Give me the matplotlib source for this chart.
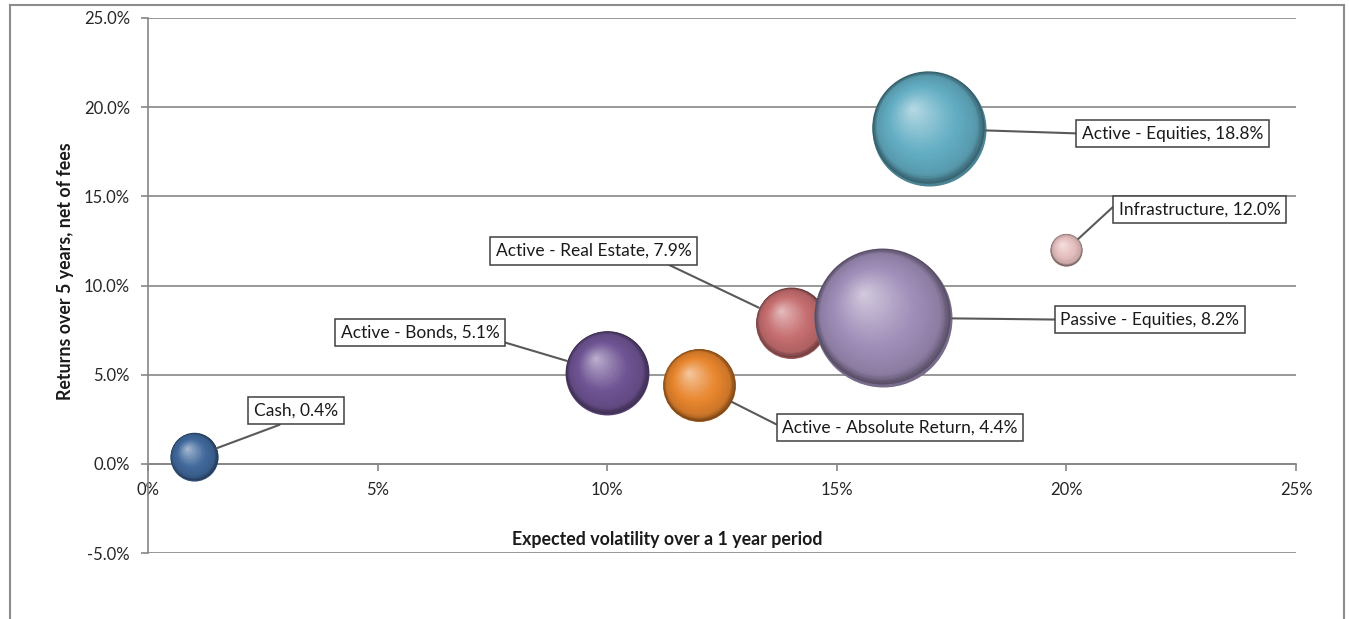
import numpy as np
import matplotlib
matplotlib.use("Agg")
import matplotlib.pyplot as plt
from matplotlib.colors import to_rgb
from matplotlib.transforms import offset_copy
from matplotlib.lines import Line2D
from matplotlib.ticker import FuncFormatter

plt.rcParams['font.family'] = ['Lato', 'DejaVu Sans']

# data (percent)
names = ["Cash", "Active - Bonds", "Active - Absolute Return", "Active - Real Estate",
         "Passive - Equities", "Active - Equities", "Infrastructure"]
volatility = [1, 10, 12, 14, 16, 17, 20]
returns = [0.4, 5.1, 4.4, 7.9, 8.2, 18.8, 12.0]
bubble_size = [5.8, 17.6, 13.3, 12.6, 47.6, 32.5, 2.6]
colors = ["#41699c", "#6f5494", "#e8862e", "#c66e70", "#9f8db8", "#63aec4", "#e6bfbf"]

# label box offsets from bubble centre, pixels (x right, y up), and where the leader joins the box
label_offsets = [(102, 46), (-187, 40), (201, -42), (-197, 72), (267, -2), (244, -5), (133, 40)]
label_joins = [(0.5, 0), (1, 0), (0, 0.5), (0.82, 0), (0, 0.5), (0, 0.5), (0, 1)]

DPI = 100
fig = plt.figure(figsize=(13.49, 6.19), dpi=DPI)
ax = fig.add_axes([148/1349, 1-553/619, (1296-148)/1349, (553-18)/619])

grey = "#868686"
ax.set_xlim(0, 25)
ax.set_ylim(-5, 25)
ax.set_xticks(np.arange(0, 26, 5))
ax.set_yticks(np.arange(-5, 26, 5))
ax.xaxis.set_major_formatter(FuncFormatter(lambda v, p: f"{v:.0f}%"))
ax.yaxis.set_major_formatter(FuncFormatter(lambda v, p: f"{v:.1f}%"))
ax.yaxis.grid(True, color=grey, lw=1.2, zorder=0)
ax.set_axisbelow(True)
for s in ["top", "right"]:
    ax.spines[s].set_visible(False)
ax.spines["bottom"].set_position(("data", 0))
ax.spines["bottom"].set_color(grey)
ax.spines["left"].set_color(grey)
ax.spines["bottom"].set_linewidth(1.2)
ax.spines["left"].set_linewidth(1.2)
ax.tick_params(axis="x", direction="out", length=5, width=1.2, color=grey,
               pad=8, labelsize=12, labelcolor="#262626")
ax.tick_params(axis="y", direction="out", length=5, width=1.2, color=grey,
               pad=8, labelsize=12, labelcolor="#262626")

PT = 72 / DPI


def sphere(x, y, r_px, color, n=60):
    base = np.array(to_rgb(color))
    dark = base * 0.5
    mid = base * 0.88
    light = base + (1 - base) * 0.55
    # faint lighter rim at the bottom (reflection)
    ax.scatter([x], [y], s=(2 * r_px * PT) ** 2, color=base * 0.75,
               linewidths=0, zorder=3)
    ux, uy = -0.65, 0.76
    for i in range(n):
        f = 0.985 - 0.985 * i / n
        t = 1 - f
        if t < 0.12:
            c = dark + (mid - dark) * (t / 0.12)
        elif t < 0.4:
            c = mid + (base - mid) * ((t - 0.12) / 0.28)
        else:
            c = base + (light - base) * ((t - 0.4) / 0.6) ** 1.1
        d = 0.45 * r_px * t
        tr = offset_copy(ax.transData, fig=fig, x=ux * d * PT,
                         y=(uy * d + 0.015 * r_px) * PT, units="points")
        ax.scatter([x], [y], s=(2 * r_px * f * PT) ** 2, color=np.clip(c, 0, 1),
                   linewidths=0, transform=tr, zorder=3)


radii = [10 * np.sqrt(b) for b in bubble_size]
for xv, yv, r, c in zip(volatility, returns, radii, colors):
    sphere(xv, yv, r, c)

for nm, xv, yv, r, (ox, oy), rp in zip(names, volatility, returns, radii,
                                       label_offsets, label_joins):
    ax.annotate(f"{nm}, {yv:.1f}%", xy=(xv, yv), xytext=(ox * PT, oy * PT),
                textcoords="offset points", ha="center", va="center",
                fontsize=12.5, color="#1a1a1a", zorder=6,
                bbox=dict(boxstyle="square,pad=0.32", fc="white", ec="#404040", lw=1.1),
                arrowprops=dict(arrowstyle="-", color="#595959", lw=1.5, relpos=rp,
                                shrinkA=0, shrinkB=r * PT))

fig.text(65/1349, 1-271/619, "Returns over 5 years, net of fees", rotation=90,
         ha="center", va="center", fontsize=12.8, weight="bold", color="#1a1a1a")
fig.text(667/1349, 1-540/619, "Expected volatility over a 1 year period",
         ha="center", va="center", fontsize=12.8, weight="bold", color="#1a1a1a")

# outer frame
fc = "#8c8c8c"
x0, x1, yt = 10/1349, 1344/1349, 1-5/619
fig.add_artist(Line2D([x0, x1], [yt, yt], color=fc, lw=1.5, transform=fig.transFigure))
fig.add_artist(Line2D([x0, x0], [0, yt], color=fc, lw=1.5, transform=fig.transFigure))
fig.add_artist(Line2D([x1, x1], [0, yt], color=fc, lw=1.5, transform=fig.transFigure))

fig.savefig("out.png", dpi=DPI)
